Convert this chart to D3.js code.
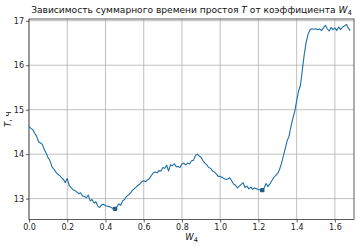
<!DOCTYPE html>
<html><head><meta charset="utf-8">
<script src="https://cdn.jsdelivr.net/npm/d3@7"></script>
<style>body{margin:0;background:#fff;} svg{display:block;font-family:"DejaVu Sans",sans-serif;}</style>
</head><body>
<svg id="c" width="360" height="246"></svg>
<script>
const W_START = 0, W_STEP = 0.01;
const T_VALUES = [
14.62,14.58,14.55,14.47,14.40,14.28,14.25,14.22,14.10,14.02,
13.92,13.85,13.72,13.66,13.60,13.55,13.52,13.47,13.43,13.36,
13.45,13.30,13.25,13.20,13.18,13.15,13.11,13.13,13.06,13.05,
13.02,13.08,12.95,12.98,12.90,12.93,12.83,12.80,12.86,12.87,
12.84,12.83,12.82,12.80,12.78,12.77,12.82,12.88,12.85,12.95,
12.98,13.05,13.08,13.12,13.18,13.22,13.26,13.30,13.33,13.38,
13.40,13.38,13.42,13.45,13.52,13.58,13.60,13.58,13.63,13.62,
13.70,13.68,13.75,13.62,13.76,13.74,13.78,13.72,13.72,13.70,
13.78,13.80,13.76,13.80,13.78,13.85,13.86,13.96,14.00,13.96,
13.93,13.85,13.80,13.76,13.70,13.68,13.62,13.60,13.55,13.50,
13.50,13.48,13.45,13.43,13.44,13.47,13.40,13.33,13.30,13.24,
13.28,13.32,13.36,13.25,13.28,13.22,13.26,13.21,13.24,13.22,
13.20,13.20,13.19,13.24,13.34,13.27,13.33,13.40,13.47,13.52,
13.56,13.65,13.78,13.95,14.12,14.30,14.40,14.62,14.80,14.96,
15.20,15.42,15.55,15.90,16.25,16.52,16.70,16.80,16.82,16.81,
16.82,16.80,16.82,16.78,16.84,16.90,16.82,16.77,16.85,16.80,
16.84,16.78,16.86,16.80,16.86,16.88,16.92,16.84,16.78
];
const MARKER_W = [0.45, 1.22];
const X_TICKS = [0.0,0.2,0.4,0.6,0.8,1.0,1.2,1.4,1.6];
const Y_TICKS = [13,14,15,16,17];

const data = T_VALUES.map((t,i)=>({w: +(W_START + i*W_STEP).toFixed(2), t}));
const markers = data.filter(d => MARKER_W.some(m => Math.abs(m - d.w) < 1e-6));

const L=29, R=354, T=19, B=219.5;
const svg = d3.select("#c");
const x = d3.scaleLinear().domain([0,1.7]).range([L,R]);
const y = d3.scaleLinear().domain([12.53,17.04]).range([B,T]);

// grid
svg.append("g").selectAll("line").data(X_TICKS).join("line")
  .attr("x1",d=>x(d)).attr("x2",d=>x(d)).attr("y1",T).attr("y2",B)
  .attr("stroke","#b0b0b0").attr("stroke-width",0.8);
svg.append("g").selectAll("line").data(Y_TICKS).join("line")
  .attr("x1",L).attr("x2",R).attr("y1",d=>y(d)).attr("y2",d=>y(d))
  .attr("stroke","#b0b0b0").attr("stroke-width",0.8);

// line
const line = d3.line().x(d=>x(d.w)).y(d=>y(d.t));
svg.append("path").datum(data).attr("d",line).attr("fill","none")
  .attr("stroke","#1f6fa8").attr("stroke-width",1.1).attr("stroke-linejoin","round");
svg.append("g").selectAll("rect").data(markers).join("rect")
  .attr("x",d=>x(d.w)-2.2).attr("y",d=>y(d.t)-2.2).attr("width",4.4).attr("height",4.4)
  .attr("rx",1.2).attr("fill","#1f5f8f");

// axes
const xa = svg.append("g").attr("transform",`translate(0,${B})`)
  .call(d3.axisBottom(x).tickValues(X_TICKS).tickFormat(d3.format(".1f")).tickSize(3).tickPadding(2));
const ya = svg.append("g").attr("transform",`translate(${L},0)`)
  .call(d3.axisLeft(y).tickValues(Y_TICKS).tickFormat(d3.format("d")).tickSize(3).tickPadding(2));
[xa,ya].forEach(a=>{
  a.select(".domain").remove();
  a.selectAll("text").attr("font-size",8).attr("fill","#222").attr("font-family","DejaVu Sans");
  a.selectAll("line").attr("stroke","#333").attr("stroke-width",0.8);
});
svg.append("rect").attr("x",L).attr("y",T).attr("width",R-L).attr("height",B-T)
  .attr("fill","none").attr("stroke","#333").attr("stroke-width",0.8);

// title
const title = svg.append("text").attr("x",(L+R)/2).attr("y",13).attr("text-anchor","middle")
  .attr("font-size",9.1).attr("fill","#111");
title.append("tspan").text("Зависимость суммарного времени простоя ");
title.append("tspan").attr("font-style","italic").text("T");
title.append("tspan").text(" от коэффициента ");
title.append("tspan").attr("font-style","italic").text("W");
title.append("tspan").attr("font-size",6.8).attr("dy",2).text("4");

// x label
const xl = svg.append("text").attr("x",(L+R)/2).attr("y",240).attr("text-anchor","middle")
  .attr("font-size",8.5).attr("fill","#111");
xl.append("tspan").attr("font-style","italic").text("W");
xl.append("tspan").attr("font-size",6.5).attr("dy",2).text("4");

// y label
const yl = svg.append("text").attr("transform",`translate(11,${(T+B)/2}) rotate(-90)`)
  .attr("text-anchor","middle").attr("font-size",8.5).attr("fill","#111");
yl.append("tspan").attr("font-style","italic").text("T");
yl.append("tspan").text(", ч");
</script>
</body></html>
